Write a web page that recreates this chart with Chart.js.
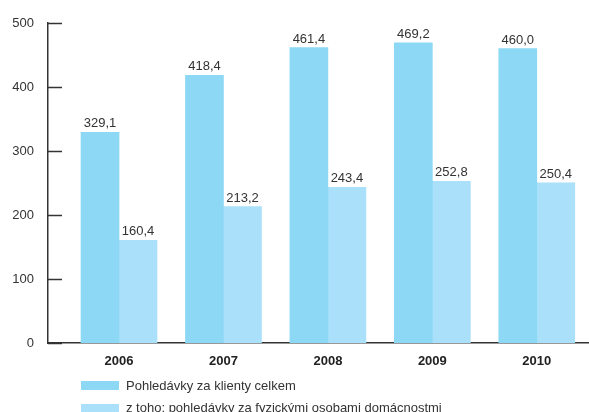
<!DOCTYPE html>
<html>
<head>
<meta charset="utf-8">
<script src="https://cdn.jsdelivr.net/npm/chart.js@4.4.1/dist/chart.umd.min.js"></script>
<style>
  body { margin: 0; background: #fff; }
  #wrap { position: relative; width: 589px; height: 412px; overflow: hidden; font-family: "Liberation Sans", Arial, sans-serif; }
  .lg-box { position: absolute; left: 81px; width: 38px; height: 9px; }
  .lg-text { position: absolute; left: 126px; font-size: 13px; line-height: 15px; color: #333; white-space: nowrap; }
</style>
</head>
<body>
<div id="wrap">
  <canvas id="chart" width="589" height="412"></canvas>
  <div class="lg-box" style="top:381px; background:#8DD8F5"></div>
  <div class="lg-text" id="lg1" style="top:378px"></div>
  <div class="lg-box" style="top:404px; background:#AAE0F9"></div>
  <div class="lg-text" id="lg2" style="top:400px"></div>
</div>
<script>
// data
const years = [2006, 2007, 2008, 2009, 2010];
const totalClaims = [329.1, 418.4, 461.4, 469.2, 460.0];
const householdClaims = [160.4, 213.2, 243.4, 252.8, 250.4];
const yTicks = [0, 100, 200, 300, 400, 500];
const seriesNames = ['Pohledávky za klienty celkem', 'z toho: pohledávky za fyzickými osobami domácnostmi'];
const colors = ['#8DD8F5', '#AAE0F9'];

document.getElementById('lg1').textContent = seriesNames[0];
document.getElementById('lg2').textContent = seriesNames[1];

const fmt = v => v.toFixed(1).replace('.', ',');

// inward tick marks on the y axis
const innerTicks = {
  id: 'innerTicks',
  afterDraw(chart) {
    const y = chart.scales.y;
    const ctx = chart.ctx;
    ctx.save();
    ctx.strokeStyle = '#333';
    ctx.lineWidth = 1.5;
    yTicks.forEach(t => {
      const py = Math.round(y.getPixelForValue(t)) + 0.5;
      ctx.beginPath();
      ctx.moveTo(y.right, py);
      ctx.lineTo(y.right + 14, py);
      ctx.stroke();
    });
    ctx.restore();
  }
};

// value labels above bars
const valueLabels = {
  id: 'valueLabels',
  afterDatasetsDraw(chart) {
    const ctx = chart.ctx;
    ctx.save();
    ctx.font = '13px "Liberation Sans", Arial, sans-serif';
    ctx.fillStyle = '#333';
    ctx.textAlign = 'center';
    ctx.textBaseline = 'alphabetic';
    chart.data.datasets.forEach((ds, i) => {
      chart.getDatasetMeta(i).data.forEach((bar, j) => {
        ctx.fillText(fmt(ds.data[j].y), bar.x, bar.y - 5);
      });
    });
    ctx.restore();
  }
};

new Chart(document.getElementById('chart'), {
  type: 'bar',
  data: {
    datasets: [
      {
        label: seriesNames[0],
        data: years.map((yr, i) => ({ x: yr, y: totalClaims[i] })),
        backgroundColor: colors[0],
        barThickness: 38
      },
      {
        label: seriesNames[1],
        data: years.map((yr, i) => ({ x: yr, y: householdClaims[i] })),
        backgroundColor: colors[1],
        barThickness: 38
      }
    ]
  },
  options: {
    responsive: false,
    animation: false,
    layout: { padding: { top: 23, right: 0, bottom: 0, left: 0 } },
    plugins: {
      legend: { display: false },
      tooltip: { enabled: false }
    },
    scales: {
      x: {
        type: 'linear',
        offset: false,
        min: 2005.32,
        max: 2010.5,
        afterBuildTicks: scale => { scale.ticks = years.map(v => ({ value: v })); },
        afterFit: scale => { scale.height = 69; },
        grid: { display: false, drawTicks: false, offset: false },
        border: { display: true, color: '#333', width: 1.5 },
        ticks: {
          padding: 11,
          color: '#222',
          font: { family: '"Liberation Sans", Arial, sans-serif', size: 13, weight: 'bold' },
          callback: v => String(v)
        }
      },
      y: {
        min: 0,
        max: 500,
        afterBuildTicks: scale => { scale.ticks = yTicks.map(v => ({ value: v })); },
        afterFit: scale => { scale.width = 48; },
        grid: { display: false, drawTicks: false },
        border: { display: true, color: '#333', width: 1.5 },
        ticks: {
          padding: 14,
          color: '#333',
          font: { family: '"Liberation Sans", Arial, sans-serif', size: 13 }
        }
      }
    }
  },
  plugins: [innerTicks, valueLabels]
});
</script>
</body>
</html>
